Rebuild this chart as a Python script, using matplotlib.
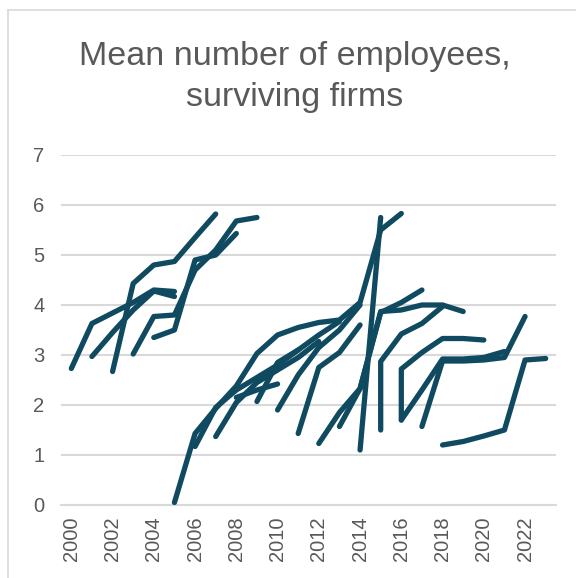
import matplotlib
matplotlib.use("Agg")
import matplotlib.pyplot as plt
from matplotlib.lines import Line2D

# cohort series: years observed and mean number of employees
years_c2000 = [2000, 2001, 2002, 2003, 2004, 2005]
emp_c2000 = [2.73, 3.63, 3.84, 4.05, 4.3, 4.27]
years_c2001 = [2001, 2002, 2003, 2004, 2005]
emp_c2001 = [2.97, 3.45, 3.9, 4.28, 4.17]
years_c2002 = [2002, 2003, 2004, 2005, 2006, 2007]
emp_c2002 = [2.67, 4.43, 4.8, 4.87, 5.35, 5.82]
years_c2003 = [2003, 2004, 2005, 2006, 2007, 2008, 2009]
emp_c2003 = [3.02, 3.77, 3.8, 4.7, 5.1, 5.68, 5.75]
years_c2004 = [2004, 2005, 2006, 2007, 2008]
emp_c2004 = [3.35, 3.5, 4.9, 5.0, 5.43]
years_c2005 = [2005, 2006, 2007, 2008, 2009, 2010, 2011, 2012, 2013, 2014, 2015, 2016]
emp_c2005 = [0.05, 1.43, 1.93, 2.38, 3.03, 3.4, 3.55, 3.65, 3.7, 4.05, 5.5, 5.83]
years_c2006 = [2006, 2007, 2008, 2009, 2010, 2011]
emp_c2006 = [1.17, 1.95, 2.3, 2.55, 2.8, 3.1]
years_c2007 = [2007, 2008, 2009, 2010, 2011, 2012]
emp_c2007 = [1.37, 2.05, 2.45, 2.7, 2.95, 3.27]
years_c2008 = [2008, 2009, 2010]
emp_c2008 = [2.15, 2.3, 2.42]
years_c2009 = [2009, 2010, 2011, 2012, 2013]
emp_c2009 = [2.07, 2.85, 3.1, 3.4, 3.67]
years_c2010 = [2010, 2011, 2012, 2013, 2014]
emp_c2010 = [1.9, 2.6, 3.15, 3.5, 4.0]
years_c2011 = [2011, 2012, 2013, 2014]
emp_c2011 = [1.43, 2.75, 3.05, 3.6]
years_c2012 = [2012, 2013, 2014, 2015, 2016, 2017]
emp_c2012 = [1.23, 1.85, 2.33, 3.85, 4.05, 4.3]
years_c2013 = [2013, 2014, 2015, 2016, 2017, 2018, 2019]
emp_c2013 = [1.57, 2.33, 3.87, 3.9, 4.0, 4.0, 3.87]
years_c2014 = [2014, 2015]
emp_c2014 = [1.1, 5.75]
years_c2015 = [2015, 2015, 2016, 2017, 2018]
emp_c2015 = [1.5, 2.87, 3.42, 3.63, 3.97]
years_c2016 = [2016, 2016, 2017, 2018, 2019, 2020]
emp_c2016 = [1.7, 2.72, 3.05, 3.33, 3.33, 3.3]
years_c2016b = [2016, 2017, 2018, 2019, 2020, 2021]
emp_c2016b = [1.7, 2.3, 2.92, 2.92, 2.95, 3.07]
years_c2017 = [2017, 2018, 2019, 2020, 2021, 2022]
emp_c2017 = [1.57, 2.88, 2.88, 2.9, 2.95, 3.77]
years_c2018 = [2018, 2019, 2020, 2021, 2022, 2023]
emp_c2018 = [1.2, 1.27, 1.38, 1.5, 2.9, 2.93]

cohorts = [
    (years_c2000, emp_c2000), (years_c2001, emp_c2001), (years_c2002, emp_c2002),
    (years_c2003, emp_c2003), (years_c2004, emp_c2004), (years_c2005, emp_c2005),
    (years_c2006, emp_c2006), (years_c2007, emp_c2007), (years_c2008, emp_c2008),
    (years_c2009, emp_c2009), (years_c2010, emp_c2010), (years_c2011, emp_c2011),
    (years_c2012, emp_c2012), (years_c2013, emp_c2013), (years_c2014, emp_c2014),
    (years_c2015, emp_c2015), (years_c2016, emp_c2016), (years_c2016b, emp_c2016b),
    (years_c2017, emp_c2017), (years_c2018, emp_c2018),
]

tick_years = list(range(2000, 2023, 2))

plt.rcParams['font.family'] = ['Liberation Sans', 'DejaVu Sans']
grey = '#595959'
line_col = '#0F4A60'

fig = plt.figure(figsize=(5.76, 5.78), dpi=100)
ax = fig.add_axes([61/576, 1 - 505/578, 495/576, 350/578])

for yrs, vals in cohorts:
    ax.plot(yrs, vals, color=line_col, lw=3.8, solid_capstyle='round',
            solid_joinstyle='round', zorder=3)

ax.set_xlim(1999.5, 2023.5)
ax.set_ylim(0, 7)
ax.set_yticks(range(0, 8))
ax.set_xticks(tick_years)
ax.set_xticklabels([str(y) for y in tick_years], rotation=90)
ax.tick_params(axis='both', length=0, labelsize=14.5, colors=grey)
ax.tick_params(axis='y', pad=12)
ax.tick_params(axis='x', pad=8)
ax.grid(axis='y', color='#D9D9D9', lw=1.5)
ax.set_axisbelow(True)
for s in ['top', 'right', 'left']:
    ax.spines[s].set_visible(False)
ax.spines['bottom'].set_color('#D9D9D9')
ax.spines['bottom'].set_linewidth(1.5)

fig.text(295/576, 1 - 57/578, 'Mean number of employees,', ha='center', va='center',
         fontsize=24.5, color=grey)
fig.text(295/576, 1 - 98/578, 'surviving firms', ha='center', va='center',
         fontsize=24.5, color=grey)

# chart area border (left and top edges visible)
fig.add_artist(Line2D([8/576, 8/576], [0, 1 - 10/578], color='#D9D9D9', lw=1.2))
fig.add_artist(Line2D([8/576, 1], [1 - 10/578, 1 - 10/578], color='#D9D9D9', lw=1.2))

fig.savefig('out.png', dpi=100)
